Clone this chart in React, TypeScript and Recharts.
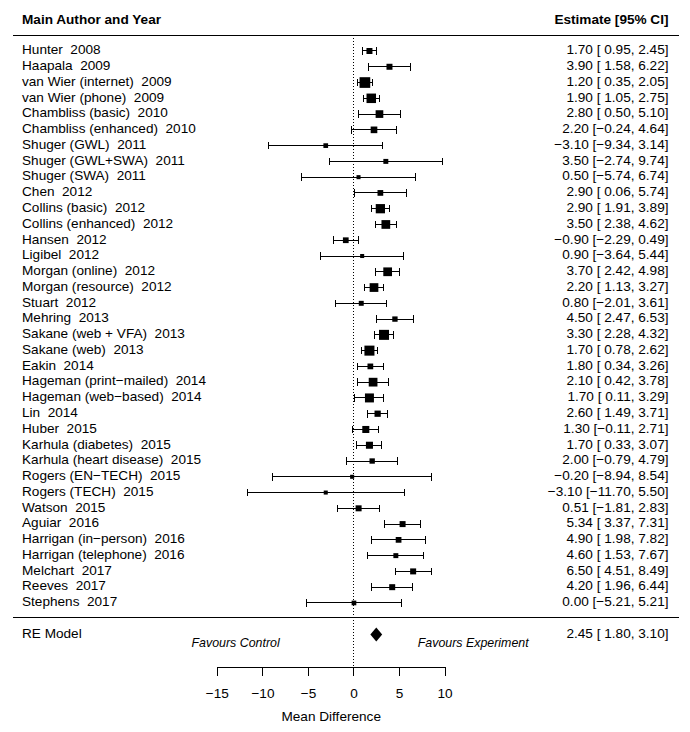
import React from 'react';
import { ScatterChart, Scatter, XAxis, YAxis, ErrorBar, ReferenceLine, ReferenceDot } from 'recharts';

const studies = [
  'Hunter  2008', 'Haapala  2009', 'van Wier (internet)  2009', 'van Wier (phone)  2009',
  'Chambliss (basic)  2010', 'Chambliss (enhanced)  2010', 'Shuger (GWL)  2011',
  'Shuger (GWL+SWA)  2011', 'Shuger (SWA)  2011', 'Chen  2012', 'Collins (basic)  2012',
  'Collins (enhanced)  2012', 'Hansen  2012', 'Ligibel  2012', 'Morgan (online)  2012',
  'Morgan (resource)  2012', 'Stuart  2012', 'Mehring  2013', 'Sakane (web + VFA)  2013',
  'Sakane (web)  2013', 'Eakin  2014', 'Hageman (print\u2212mailed)  2014',
  'Hageman (web\u2212based)  2014', 'Lin  2014', 'Huber  2015', 'Karhula (diabetes)  2015',
  'Karhula (heart disease)  2015', 'Rogers (EN\u2212TECH)  2015', 'Rogers (TECH)  2015',
  'Watson  2015', 'Aguiar  2016', 'Harrigan (in\u2212person)  2016', 'Harrigan (telephone)  2016',
  'Melchart  2017', 'Reeves  2017', 'Stephens  2017',
];
const estimates = [
  1.7, 3.9, 1.2, 1.9, 2.8, 2.2, -3.1, 3.5, 0.5, 2.9, 2.9, 3.5, -0.9, 0.9, 3.7, 2.2, 0.8, 4.5,
  3.3, 1.7, 1.8, 2.1, 1.7, 2.6, 1.3, 1.7, 2.0, -0.2, -3.1, 0.51, 5.34, 4.9, 4.6, 6.5, 4.2, 0.0,
];
const lowerCI = [
  0.95, 1.58, 0.35, 1.05, 0.5, -0.24, -9.34, -2.74, -5.74, 0.06, 1.91, 2.38, -2.29, -3.64, 2.42,
  1.13, -2.01, 2.47, 2.28, 0.78, 0.34, 0.42, 0.11, 1.49, -0.11, 0.33, -0.79, -8.94, -11.7, -1.81,
  3.37, 1.98, 1.53, 4.51, 1.96, -5.21,
];
const upperCI = [
  2.45, 6.22, 2.05, 2.75, 5.1, 4.64, 3.14, 9.74, 6.74, 5.74, 3.89, 4.62, 0.49, 5.44, 4.98, 3.27,
  3.61, 6.53, 4.32, 2.62, 3.26, 3.78, 3.29, 3.71, 2.71, 3.07, 4.79, 8.54, 5.5, 2.83, 7.31, 7.82,
  7.67, 8.49, 6.44, 5.21,
];
// relative study weights (%)
const weights = [
  2.3, 2.3, 5.9, 5.0, 3.6, 2.8, 1.3, 1.5, 0.8, 2.1, 4.8, 4.4, 2.1, 0.8, 4.4, 4.4, 1.5, 1.8,
  5.4, 5.4, 2.1, 4.4, 4.6, 2.5, 3.1, 3.1, 1.8, 0.8, 0.8, 2.3, 2.3, 2.1, 1.5, 2.3, 2.3, 1.3,
];
const pooledLabel = 'RE Model';
const pooledEst = 2.45;
const pooledLo = 1.8;
const pooledHi = 3.1;
const xTicks = [-15, -10, -5, 0, 5, 10];

const W = 690;
const H = 732;
const X_MIN = -38.88;
const X_MAX = 36.91;
const Y_TOP = -3.234;
const Y_BOTTOM = 39.062;
const PX = W / (X_MAX - X_MIN);
const HEADER_ROW = -1.95;
const TOP_RULE = -1.01;
const MID_RULE = 35.95;
const RE_ROW = 37;
const FONT = '"Liberation Sans", Arial, Helvetica, sans-serif';

const fmt = (v: number) => (v < 0 ? '\u2212' : '') + Math.abs(v).toFixed(2);
const ciText = (e: number, lo: number, hi: number) =>
  `${fmt(e)} [${lo < 0 ? '' : ' '}${fmt(lo)}, ${fmt(hi)}]`;
const tickFmt = (v: number) => (v < 0 ? '\u2212' + Math.abs(v) : String(v));
const boxSize = (w: number) => 3 + 1.3 * w;

const rows = studies.map((_, i) => ({
  row: i,
  est: estimates[i],
  err: [estimates[i] - lowerCI[i], upperCI[i] - estimates[i]],
  w: weights[i],
}));
const pooledRow = [{ row: RE_ROW, est: pooledEst, lo: pooledLo, hi: pooledHi }];
const rowTicks = [HEADER_ROW, ...studies.map((_, i) => i), RE_ROW];

const NameTick = (props: any) => {
  const v = props.payload.value;
  const head = v === HEADER_ROW;
  const label = head ? 'Main Author and Year' : v === RE_ROW ? pooledLabel : studies[v];
  return (
    <text x={22} y={props.y} dy={3.3} fontFamily={FONT} fontSize={13.6}
      fontWeight={head ? 'bold' : 'normal'} fill="#000" style={{ whiteSpace: 'pre' }}>
      {label}
    </text>
  );
};

const EstTick = (props: any) => {
  const v = props.payload.value;
  const head = v === HEADER_ROW;
  const label = head
    ? 'Estimate [95% CI]'
    : v === RE_ROW
      ? ciText(pooledEst, pooledLo, pooledHi)
      : ciText(estimates[v], lowerCI[v], upperCI[v]);
  return (
    <text x={668.5} y={props.y} dy={3.3} textAnchor="end" fontFamily={FONT} fontSize={13.6}
      fontWeight={head ? 'bold' : 'normal'} fill="#000" style={{ whiteSpace: 'pre' }}>
      {label}
    </text>
  );
};

const BoxShape = (p: any) => {
  const s = boxSize(p.payload.w);
  return <rect x={p.cx - s / 2} y={p.cy - s / 2} width={s} height={s} fill="#000" />;
};

const DiamondShape = (p: any) => {
  const { cx, cy, payload } = p;
  const l = cx - (payload.est - payload.lo) * PX;
  const r = cx + (payload.hi - payload.est) * PX;
  return <polygon points={`${l},${cy} ${cx},${cy - 7} ${r},${cy} ${cx},${cy + 7}`} fill="#000" />;
};

const textLabel = (value: string, size: number, italic: boolean) => ({
  value,
  position: 'center' as const,
  fontSize: size,
  fontFamily: FONT,
  fontStyle: italic ? 'italic' : 'normal',
  fill: '#000',
});

export default function App() {
  return (
    <div style={{ position: 'absolute', left: 0, top: 0, width: W, height: H, background: '#fff' }}>
      <ScatterChart width={W} height={H} margin={{ top: 0, right: 0, bottom: 0, left: 0 }}>
        <XAxis type="number" dataKey="est" domain={[X_MIN, X_MAX]} allowDataOverflow
          ticks={xTicks} interval={0} height={65} axisLine={false} tickSize={9} tickMargin={12.4}
          tickLine={{ stroke: '#000', shapeRendering: 'crispEdges' }}
          tick={{ fill: '#000', fontSize: 13.6, fontFamily: FONT }} tickFormatter={tickFmt} />
        <YAxis yAxisId="names" type="number" dataKey="row" domain={[Y_TOP, Y_BOTTOM]} reversed
          allowDataOverflow mirror width={1} ticks={rowTicks} interval={0} axisLine={false}
          tickLine={false} tick={<NameTick />} />
        <YAxis yAxisId="est" orientation="right" type="number" dataKey="row" domain={[Y_TOP, Y_BOTTOM]}
          reversed allowDataOverflow mirror width={1} ticks={rowTicks} interval={0} axisLine={false}
          tickLine={false} tick={<EstTick />} />

        <ReferenceLine yAxisId="names" ifOverflow="visible" stroke="#000" strokeWidth={1}
          shapeRendering="crispEdges" segment={[{ x: -37.46, y: TOP_RULE }, { x: 35.7, y: TOP_RULE }]} />
        <ReferenceLine yAxisId="names" ifOverflow="visible" stroke="#000" strokeWidth={1}
          shapeRendering="crispEdges" segment={[{ x: -37.46, y: MID_RULE }, { x: 35.7, y: MID_RULE }]} />
        <ReferenceLine yAxisId="names" ifOverflow="visible" stroke="#000" strokeWidth={1}
          shapeRendering="crispEdges" strokeDasharray="1 2"
          segment={[{ x: 0, y: -0.83 }, { x: 0, y: Y_BOTTOM }]} />
        <ReferenceLine yAxisId="names" ifOverflow="visible" stroke="#000" strokeWidth={1}
          shapeRendering="crispEdges" segment={[{ x: -15, y: Y_BOTTOM }, { x: 10, y: Y_BOTTOM }]} />

        <Scatter yAxisId="names" data={rows} shape={BoxShape} isAnimationActive={false}>
          <ErrorBar dataKey="err" direction="x" width={3.8} strokeWidth={1} stroke="#000"
            shapeRendering="crispEdges" />
        </Scatter>
        <Scatter yAxisId="names" data={pooledRow} shape={DiamondShape} isAnimationActive={false} />

        <ReferenceDot yAxisId="names" x={-13} y={37.52} r={0} fill="none" stroke="none"
          ifOverflow="visible" label={textLabel('Favours Control', 12.4, true)} />
        <ReferenceDot yAxisId="names" x={13.1} y={37.52} r={0} fill="none" stroke="none"
          ifOverflow="visible" label={textLabel('Favours Experiment', 12.4, true)} />
        <ReferenceDot yAxisId="names" x={-2.5} y={42.21} r={0} fill="none" stroke="none"
          ifOverflow="visible" label={textLabel('Mean Difference', 13.6, false)} />
      </ScatterChart>
    </div>
  );
}
